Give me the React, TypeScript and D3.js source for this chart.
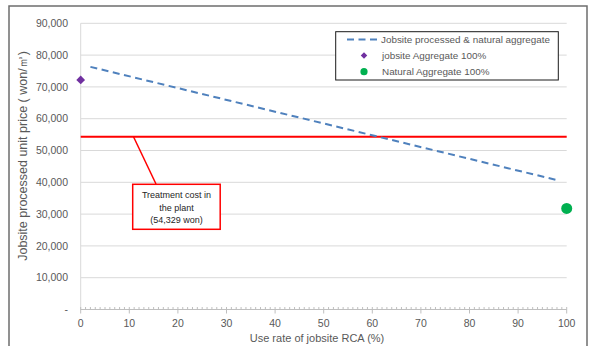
import React from "react";
import * as d3 from "d3";

const lineX = [2, 98];
const lineY = [76300, 40700];
const jobsitePoint = [0, 72200];
const naturalPoint = [100, 31800];
const treatmentCost = 54329;
const yTicks = [0, 10000, 20000, 30000, 40000, 50000, 60000, 70000, 80000, 90000];
const xTicks = [0, 10, 20, 30, 40, 50, 60, 70, 80, 90, 100];
const legendLabels = [
  "Jobsite processed & natural aggregate",
  "jobsite Aggregate 100%",
  "Natural Aggregate 100%",
];
const calloutLines = ["Treatment cost in", "the plant", "(54,329 won)"];

const W = 593;
const H = 346;
const FONT = "'Liberation Sans', Arial, sans-serif";

export default function App() {
  const x = d3.scaleLinear().domain([0, 100]).range([80.7, 566.7]);
  const y = d3.scaleLinear().domain([0, 90000]).range([309.5, 23.3]);
  const fmt = d3.format(",");
  const lineData = lineX.map((v, i) => [v, lineY[i]] as [number, number]);
  const linePath = d3
    .line<[number, number]>()
    .x((d) => x(d[0]))
    .y((d) => y(d[1]))(lineData);
  const minorTicks = d3.range(0, 101, 1);
  const diamond = d3.symbol().type(d3.symbolSquare).size(38)();
  const yRed = y(treatmentCost);
  const grey = "#595959";

  return (
    <svg
      width={W}
      height={H}
      style={{ position: "absolute", left: 0, top: 0 }}
    >
      <rect x={0} y={0} width={W} height={H} fill="#ffffff" />
      {/* outer frame */}
      <path
        d={`M9,346 L9,6 L587,6 L587,346`}
        fill="none"
        stroke="#6e6e6e"
        strokeWidth={1.5}
      />
      {/* gridlines */}
      {yTicks
        .filter((t) => t > 0)
        .map((t) => (
          <line
            key={t}
            x1={x(0)}
            x2={x(100)}
            y1={y(t)}
            y2={y(t)}
            stroke="#d9d9d9"
            strokeWidth={1}
          />
        ))}
      {/* y axis line */}
      <line x1={x(0)} x2={x(0)} y1={y(90000)} y2={y(0)} stroke="#d9d9d9" />
      {/* x axis */}
      <line x1={x(0)} x2={x(100)} y1={y(0)} y2={y(0)} stroke="#bfbfbf" />
      {minorTicks.map((t) => (
        <line
          key={"m" + t}
          x1={x(t)}
          x2={x(t)}
          y1={y(0) - 2.5}
          y2={t % 10 === 0 ? y(0) + 4 : y(0)}
          stroke="#bfbfbf"
          strokeWidth={1}
        />
      ))}
      {/* y tick labels */}
      {yTicks.map((t) => (
        <text
          key={"yl" + t}
          x={68}
          y={y(t)}
          dy="0.35em"
          textAnchor="end"
          fontFamily={FONT}
          fontSize={10.5}
          fill={grey}
        >
          {t === 0 ? "-" : fmt(t)}
        </text>
      ))}
      {/* x tick labels */}
      {xTicks.map((t) => (
        <text
          key={"xl" + t}
          x={x(t)}
          y={327}
          textAnchor="middle"
          fontFamily={FONT}
          fontSize={10.5}
          fill={grey}
        >
          {t}
        </text>
      ))}
      {/* axis titles */}
      <text
        x={317}
        y={342}
        textAnchor="middle"
        fontFamily={FONT}
        fontSize={11}
        fill={grey}
      >
        Use rate of jobsite RCA (%)
      </text>
      <text
        transform={`translate(27,156) rotate(-90)`}
        textAnchor="middle"
        fontFamily={FONT}
        fontSize={12.5}
        fill={grey}
      >
        Jobsite processed unit price ( won/㎥)
      </text>
      {/* treatment cost line */}
      <line
        x1={x(0)}
        x2={x(100)}
        y1={yRed}
        y2={yRed}
        stroke="#ff0000"
        strokeWidth={2}
      />
      {/* dashed series */}
      <path
        d={linePath || ""}
        fill="none"
        stroke="#4f81bd"
        strokeWidth={2}
        strokeDasharray="7,4.5"
      />
      {/* points */}
      <path
        d={diamond || ""}
        transform={`translate(${x(jobsitePoint[0])},${y(jobsitePoint[1])}) rotate(45)`}
        fill="#7030a0"
      />
      <circle
        cx={x(naturalPoint[0])}
        cy={y(naturalPoint[1])}
        r={5.5}
        fill="#00b050"
      />
      {/* callout */}
      <line
        x1={133.5}
        y1={yRed}
        x2={156}
        y2={184}
        stroke="#ff0000"
        strokeWidth={1.5}
      />
      <rect
        x={132.7}
        y={184.3}
        width={87.5}
        height={45}
        fill="#ffffff"
        stroke="#ff0000"
        strokeWidth={1.5}
      />
      {calloutLines.map((l, i) => (
        <text
          key={"c" + i}
          x={176.5}
          y={198 + i * 12.5}
          textAnchor="middle"
          fontFamily={FONT}
          fontSize={9}
          fill="#262626"
        >
          {l}
        </text>
      ))}
      {/* legend */}
      <rect
        x={335.7}
        y={31.7}
        width={222.6}
        height={48.3}
        fill="#ffffff"
        stroke="#1a1a1a"
        strokeWidth={1}
      />
      <line
        x1={347}
        x2={380}
        y1={39.5}
        y2={39.5}
        stroke="#4f81bd"
        strokeWidth={2}
        strokeDasharray="7,4.5"
      />
      <path d={diamond || ""} transform="translate(364,55.5) rotate(45) scale(0.75)" fill="#7030a0" />
      <circle cx={364} cy={71.7} r={3.6} fill="#00b050" />
      {legendLabels.map((l, i) => (
        <text
          key={"lg" + i}
          x={i === 0 ? 381 : 382}
          y={39.5 + i * 16}
          dy="0.35em"
          fontFamily={FONT}
          fontSize={9.9}
          fill={grey}
        >
          {l}
        </text>
      ))}
    </svg>
  );
}
